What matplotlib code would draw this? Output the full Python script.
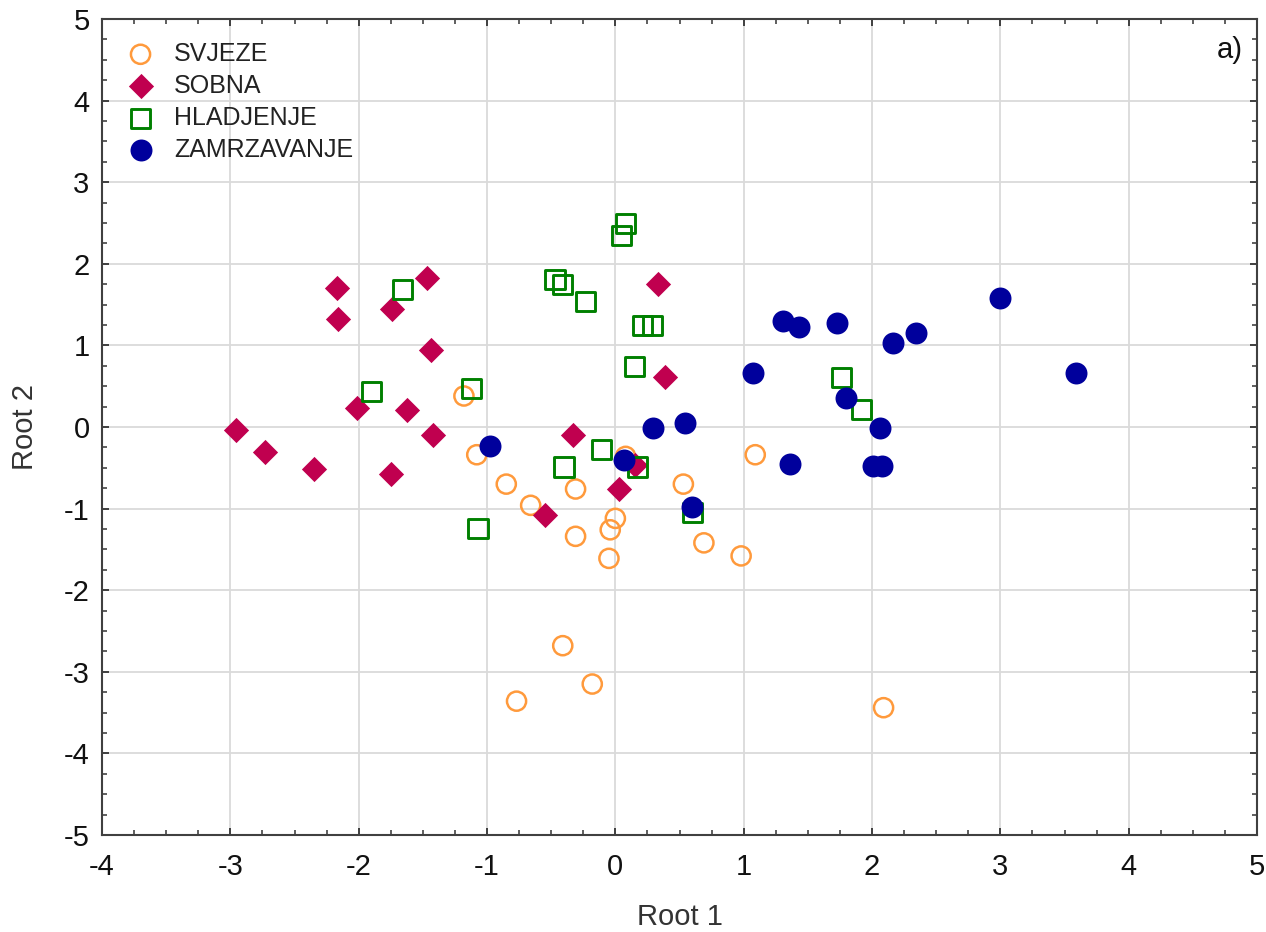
import matplotlib
matplotlib.use('Agg')
import matplotlib.pyplot as plt
from matplotlib.ticker import MultipleLocator

plt.rcParams['font.family'] = ['Liberation Sans', 'DejaVu Sans']
plt.rcParams['axes.unicode_minus'] = False

# --- data ---
svjeze_x = [-1.18, -1.08, -0.85, -0.66, -0.31, -0.31, -0.04, 0.00, -0.05, 0.08,
            0.53, 0.69, 0.98, 1.09, -0.41, -0.77, -0.18, 2.09]
svjeze_y = [0.38, -0.34, -0.70, -0.96, -0.76, -1.34, -1.26, -1.12, -1.61, -0.36,
            -0.70, -1.42, -1.58, -0.34, -2.68, -3.36, -3.15, -3.44]

sobna_x = [-2.17, -2.16, -1.47, -1.74, -1.44, 0.33, 0.39, -2.01, -1.62, -1.42,
           -2.35, -1.75, -0.33, 0.03, -0.55, 0.15, -2.96, -2.73]
sobna_y = [1.70, 1.32, 1.83, 1.45, 0.94, 1.75, 0.61, 0.23, 0.21, -0.10,
           -0.51, -0.58, -0.10, -0.76, -1.08, -0.47, -0.04, -0.31]

hlad_x = [0.08, 0.05, -1.66, -0.47, -0.41, -0.23, 0.21, 0.29, 0.15, -1.90,
          -1.12, -0.11, -0.40, 0.17, -1.07, 1.76, 1.92, 0.60]
hlad_y = [2.49, 2.35, 1.69, 1.81, 1.75, 1.54, 1.24, 1.24, 0.74, 0.43,
          0.47, -0.28, -0.49, -0.49, -1.24, 0.61, 0.21, -1.05]

zamr_x = [1.31, 1.43, 1.73, 2.16, 2.34, 3.00, 3.59, 1.07, 1.80, 2.06,
          0.29, 0.54, 1.36, 2.01, 2.08, 0.07, 0.60, -0.98]
zamr_y = [1.30, 1.23, 1.28, 1.03, 1.15, 1.58, 0.66, 0.66, 0.36, -0.01,
          -0.01, 0.05, -0.45, -0.48, -0.48, -0.40, -0.98, -0.23]

fig = plt.figure(figsize=(12.66, 9.32), dpi=100)
ax = fig.add_axes([0.0806, 0.1041, 0.9123, 0.8755])

ax.scatter(svjeze_x, svjeze_y, s=190, marker='o', facecolors='none',
           edgecolors='#FF9A3C', linewidths=1.8, label='SVJEZE', zorder=3)
ax.scatter(sobna_x, sobna_y, s=165, marker='D', color='#C0004F',
           linewidths=0, label='SOBNA', zorder=4)
ax.scatter(hlad_x, hlad_y, s=190, marker='s', facecolors='none',
           edgecolors='#008000', linewidths=2.1, label='HLADJENJE', zorder=5)
ax.scatter(zamr_x, zamr_y, s=250, marker='o', color='#00009C',
           linewidths=0, label='ZAMRZAVANJE', zorder=6)

ax.set_xlim(-4, 5)
ax.set_ylim(-5, 5)
ax.xaxis.set_major_locator(MultipleLocator(1))
ax.yaxis.set_major_locator(MultipleLocator(1))
ax.xaxis.set_minor_locator(MultipleLocator(0.25))
ax.yaxis.set_minor_locator(MultipleLocator(0.25))
ax.tick_params(which='both', direction='in', top=True, right=True,
               color='#333333', labelsize=21, labelcolor='#111111')
ax.tick_params(which='major', length=5, width=1.3)
ax.tick_params(axis='x', which='major', pad=13)
ax.tick_params(axis='y', which='major', pad=9)
ax.tick_params(which='minor', length=3.5, width=1.1)
ax.grid(True, which='major', color='#DADADA', linewidth=1.3, zorder=0)
ax.set_axisbelow(True)
for sp in ax.spines.values():
    sp.set_color('#404040')
    sp.set_linewidth(1.5)

ax.set_xlabel('Root 1', fontsize=21, color='#333333', labelpad=16)
ax.set_ylabel('Root 2', fontsize=21, color='#333333', labelpad=18)

ax.text(0.988, 0.962, 'a)', transform=ax.transAxes, ha='right', va='center',
        fontsize=21, color='#111111')

leg = ax.legend(loc='upper left', bbox_to_anchor=(0.0225, 0.972), frameon=False,
                fontsize=18, handlelength=1.0, handletextpad=0.85,
                labelspacing=0.32, borderaxespad=0, borderpad=0,
                scatterpoints=1)
for t in leg.get_texts():
    t.set_color('#222222')

fig.savefig('out.png', dpi=100)
